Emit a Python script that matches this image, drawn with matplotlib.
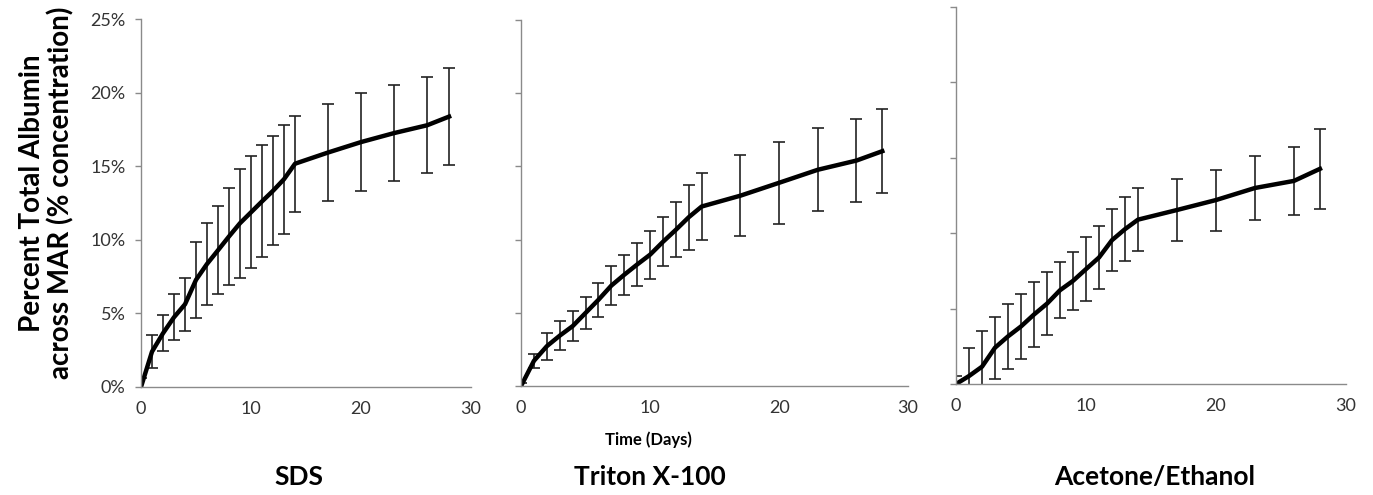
import numpy as np
import matplotlib.pyplot as plt
from matplotlib.ticker import FuncFormatter

plt.rcParams['font.family'] = ['Lato', 'DejaVu Sans']

# --- Dados ---
days = [0, 1, 2, 3, 4, 5, 6, 7, 8, 9, 10, 11, 12, 13, 14, 17, 20, 23, 26, 28]

sds_mean = [0.0, 2.4, 3.65, 4.74, 5.62, 7.28, 8.36, 9.29, 10.23, 11.13, 11.87,
            12.61, 13.33, 14.12, 15.17, 15.93, 16.64, 17.25, 17.78, 18.37]
sds_err = [0.6, 1.1, 1.22, 1.56, 1.8, 2.6, 2.8, 3.0, 3.3, 3.7, 3.8,
           3.8, 3.7, 3.7, 3.25, 3.3, 3.3, 3.25, 3.25, 3.3]

triton_mean = [0.0, 1.72, 2.72, 3.44, 4.09, 4.99, 5.89, 6.86, 7.6, 8.3, 8.97,
               9.85, 10.67, 11.53, 12.26, 13.0, 13.88, 14.77, 15.4, 16.04]
triton_err = [0.2, 0.49, 0.92, 0.98, 1.01, 1.07, 1.17, 1.34, 1.36, 1.47, 1.65,
              1.66, 1.89, 2.23, 2.26, 2.77, 2.8, 2.83, 2.84, 2.87]

acet_mean = [0.0, 0.53, 1.15, 2.41, 3.16, 3.82, 4.61, 5.33, 6.22, 6.84, 7.62,
             8.39, 9.54, 10.27, 10.9, 11.54, 12.2, 13.0, 13.47, 14.27]
acet_err = [0.55, 1.84, 2.37, 2.06, 2.16, 2.16, 2.15, 2.09, 1.86, 1.93, 2.1,
            2.06, 2.06, 2.1, 2.07, 2.08, 2.02, 2.1, 2.23, 2.65]

titles = ["SDS", "Triton X-100", "Acetone/Ethanol"]
x_ticks = [0, 10, 20, 30]
y_ticks = [0, 5, 10, 15, 20, 25]

series = [(sds_mean, sds_err), (triton_mean, triton_err), (acet_mean, acet_err)]

# posições dos eixos em fração da figura (medidas no original)
positions = [
    [0.1027, 0.2182, 0.2404, 0.7434],
    [0.3795, 0.2202, 0.2819, 0.7394],
    [0.6963, 0.2242, 0.2840, 0.7616],
]
title_x = [0.218, 0.473, 0.841]

fig = plt.figure(figsize=(13.73, 4.95), dpi=100)
spine_col = "#8a8a8a"

for i, ((mean, err), pos) in enumerate(zip(series, positions)):
    ax = fig.add_axes(pos)
    ax.errorbar(days, mean, yerr=err, color="black", lw=3.2, elinewidth=1.2,
                capsize=4, capthick=1.2, ecolor="#222222")
    ax.set_xlim(0, 30)
    ax.set_ylim(0, 25)
    ax.set_xticks(x_ticks)
    ax.set_yticks(y_ticks)
    ax.spines['top'].set_visible(False)
    ax.spines['right'].set_visible(False)
    for s in ['left', 'bottom']:
        ax.spines[s].set_color(spine_col)
        ax.spines[s].set_linewidth(1.0)
    ax.tick_params(axis='x', length=0, pad=10, labelsize=13, labelcolor="#333333")
    ax.tick_params(axis='y', length=4, width=1, color=spine_col, pad=7,
                   labelsize=13, labelcolor="#333333")
    if i == 0:
        ax.yaxis.set_major_formatter(FuncFormatter(lambda v, p: f"{v:.0f}%"))
    else:
        ax.set_yticklabels([])
    fig.text(title_x[i], 0.037, titles[i], ha="center", va="center",
             fontsize=19, fontweight="bold")

fig.text(0.472, 0.112, "Time (Days)", ha="center", va="center",
         fontsize=12, fontweight="bold")
fig.text(0.034, 0.61, "Percent Total Albumin\nacross MAR (% concentration)",
         ha="center", va="center", rotation=90, fontsize=20,
         fontweight="bold", linespacing=1.1)

plt.savefig("out.png", dpi=100)
plt.close()
